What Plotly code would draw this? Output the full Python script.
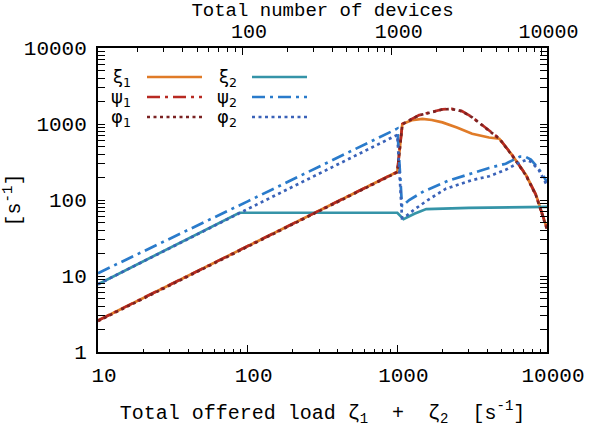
import plotly.graph_objects as go
import numpy as np

# Total offered load zeta1 + zeta2 [1/s] and the per-class rates [1/s]
xi1_load = [10, 100, 1000, 1080, 1250, 1470, 1700, 2000, 2500, 3160, 4100, 4800, 5850, 7240, 8450, 10000]
xi1_rate = [2.6, 25, 235, 1000, 1120, 1165, 1130, 1050, 900, 745, 665, 640, 390, 213, 116, 42]

psi1_load = [10, 100, 1000, 1080, 1250, 1400, 1800, 2000, 2300, 2700, 3160, 4100, 4800, 5850, 7240, 8450, 10000]
psi1_rate = [2.6, 25, 235, 1000, 1180, 1310, 1480, 1560, 1580, 1480, 1230, 810, 645, 390, 213, 116, 42]

phi1_load = [10, 100, 1000, 1080, 1250, 1400, 1800, 2000, 2300, 2700, 3160, 4100, 4800, 5850, 7240, 8450, 10000]
phi1_rate = [2.55, 24.5, 232, 995, 1175, 1305, 1470, 1555, 1575, 1475, 1225, 805, 640, 385, 210, 114, 41]

xi2_load = [10, 88, 1000, 1100, 1300, 1560, 3000, 10000]
xi2_rate = [7.8, 68, 68, 56, 66, 76, 79, 81]

psi2_load = [10, 100, 1000, 1075, 1200, 1500, 2200, 3160, 4100, 5300, 6000, 6600, 7200, 7800, 8500, 9300, 10000]
psi2_rate = [10.9, 96, 870, 82, 100, 130, 180, 226, 264, 300, 340, 372, 370, 340, 280, 220, 172]

phi2_load = [10, 100, 1000, 1075, 1150, 1300, 1600, 2100, 3160, 4100, 5300, 6300, 7200, 7800, 8800, 10000]
phi2_rate = [7.8, 76, 720, 58, 62, 75, 100, 140, 183, 205, 250, 300, 335, 320, 250, 155]

# Axis ticks
y_ticks = [1, 10, 100, 1000, 10000]
x_ticks = [10, 100, 1000, 10000]
dev_ticks = [100, 1000, 10000]
dev_per_load = 1.09  # devices per unit of offered load (top axis scale)

ORANGE = "#E07B28"
RED = "#B82A22"
BROWN = "#7A2222"
TEAL = "#3594A8"
BLUE = "#2A7BCB"
BLUE_DOT = "#3A62B8"

MONO = "Liberation Mono, Courier New, monospace"
SANS = "DejaVu Sans, sans-serif"

DASHDOT = "13px,5px,3px,5px"
DOTTED = "3px,3.5px"

series = [
    ("ξ<sub>1</sub>", xi1_load, xi1_rate, ORANGE, "solid"),
    ("ξ<sub>2</sub>", xi2_load, xi2_rate, TEAL, "solid"),
    ("ψ<sub>1</sub>", psi1_load, psi1_rate, RED, DASHDOT),
    ("ψ<sub>2</sub>", psi2_load, psi2_rate, BLUE, DASHDOT),
    ("φ<sub>1</sub>", phi1_load, phi1_rate, BROWN, DOTTED),
    ("φ<sub>2</sub>", phi2_load, phi2_rate, BLUE_DOT, DOTTED),
]

fig = go.Figure()
for name, xs, ys, color, dash in series:
    fig.add_trace(go.Scatter(x=xs, y=ys, mode="lines", name=name,
                             line=dict(color=color, width=2.7, dash=dash),
                             showlegend=False))

# Invisible trace so the device-count axis is drawn on top
fig.add_trace(go.Scatter(x=[x_ticks[0] * dev_per_load, x_ticks[-1] * dev_per_load],
                         y=[y_ticks[0], y_ticks[0]], xaxis="x2", mode="lines",
                         line=dict(width=0), hoverinfo="skip", showlegend=False))

# Custom legend: label on the left, line sample on the right
x_left = 98
x_span = 449
y_bot = 352
y_span = 304
def px_x(p):
    return (p - x_left) / x_span
def px_y(p):
    return (y_bot - p) / y_span

legend_rows = [77, 97, 117]
cols = [(133, 147, 202), (239, 252, 307)]
for i, (name, xs, ys, color, dash) in enumerate(series):
    row = i // 2
    col = i % 2
    tx, l0, l1 = cols[col]
    yy = px_y(legend_rows[row])
    fig.add_annotation(x=px_x(tx), y=px_y(legend_rows[row] + 1), xref="paper", yref="paper",
                       text=name, showarrow=False, xanchor="right", yanchor="middle",
                       font=dict(family=SANS, size=18, color="black"))
    fig.add_shape(type="line", xref="paper", yref="paper",
                  x0=px_x(l0), x1=px_x(l1), y0=yy, y1=yy,
                  line=dict(color=color, width=2.7, dash=dash))

axis_common = dict(type="log", showgrid=False, zeroline=False, automargin=False,
                   showline=True, linecolor="black", linewidth=2,
                   ticks="inside", ticklen=7, tickwidth=1, tickcolor="black",
                   minor=dict(ticks="inside", ticklen=3.5, tickwidth=1,
                              tickcolor="black", dtick="D1", showgrid=False),
                   tickfont=dict(family=MONO, size=21, color="black"))

xaxis_bottom = {**axis_common,
                "range": [np.log10(x_ticks[0]), np.log10(x_ticks[-1])],
                "tickvals": x_ticks, "ticktext": [str(v) for v in x_ticks],
                "ticklabelshift": 6, "ticklabelstandoff": 3,
                "title": dict(text="Total offered load ζ<sub>1</sub>  +  ζ<sub>2</sub>  [s<sup>-1</sup>]",
                              font=dict(family=MONO, size=20, color="black"), standoff=18)}

xaxis_top = {**axis_common,
             "overlaying": "x", "side": "top",
             "range": [np.log10(x_ticks[0] * dev_per_load), np.log10(x_ticks[-1] * dev_per_load)],
             "tickvals": dev_ticks, "ticktext": [str(v) for v in dev_ticks],
             "ticklabelshift": 7, "ticklabelstandoff": 0,
             "tickfont": dict(family=MONO, size=20, color="black"),
             "title": dict(text="Total number of devices",
                           font=dict(family=MONO, size=19, color="black"), standoff=0)}

yaxis_left = {**axis_common,
              "range": [np.log10(y_ticks[0]), np.log10(y_ticks[-1])],
              "tickvals": y_ticks, "ticktext": [str(v) for v in y_ticks],
              "mirror": "allticks", "ticklabelstandoff": 5,
              "title": dict(text="[s<sup>-1</sup>]",
                            font=dict(family=MONO, size=20, color="black"), standoff=4)}

fig.update_layout(
    width=589, height=427,
    margin=dict(l=98, r=42, t=48, b=75),
    paper_bgcolor="white", plot_bgcolor="white",
    xaxis=xaxis_bottom,
    xaxis2=xaxis_top,
    yaxis=yaxis_left,
)

fig.write_html("out.html")
